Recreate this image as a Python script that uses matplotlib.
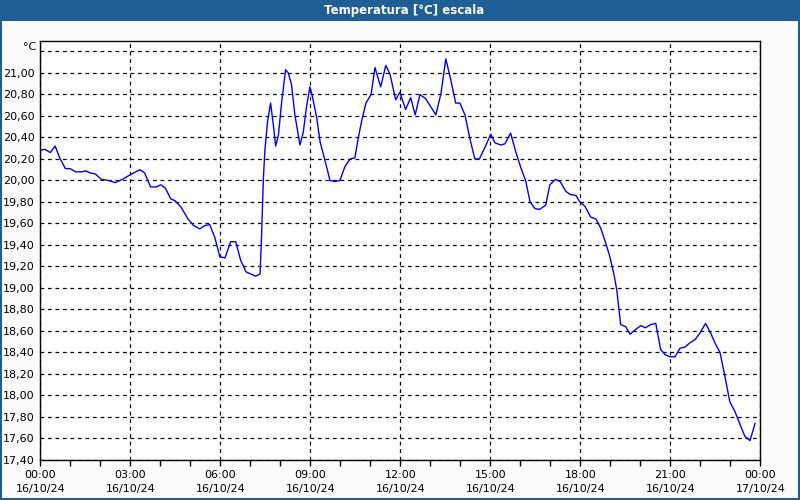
from datetime import datetime, timedelta

import matplotlib
matplotlib.use("Agg")
import matplotlib.pyplot as plt
import matplotlib.dates as mdates
from matplotlib.ticker import FuncFormatter, MultipleLocator
from matplotlib.patches import Rectangle

# hours since 16/10/24 00:00 and temperature readings (°C)
hours = [
    0.00, 0.14, 0.33, 0.49, 0.64, 0.83, 0.99, 1.17, 1.39, 1.50, 1.66, 1.83,
    2.03, 2.27, 2.49, 2.73, 2.97, 3.31, 3.47, 3.67, 3.86, 4.01, 4.16, 4.34,
    4.49, 4.69, 4.92, 5.11, 5.31, 5.47, 5.64, 5.81, 5.98, 6.15, 6.34, 6.51,
    6.67, 6.85, 7.01, 7.17, 7.32, 7.37, 7.43, 7.48, 7.57, 7.67, 7.76, 7.84,
    7.93, 8.04, 8.17, 8.26, 8.37, 8.48, 8.65, 8.76, 8.87, 8.98, 9.05, 9.21,
    9.32, 9.48, 9.65, 9.82, 9.98, 10.15, 10.32, 10.48, 10.59, 10.71, 10.85,
    11.02, 11.15, 11.34, 11.51, 11.65, 11.84, 11.98, 12.17, 12.34, 12.49,
    12.65, 12.84, 13.18, 13.35, 13.51, 13.65, 13.84, 13.98, 14.15, 14.32,
    14.48, 14.63, 14.82, 15.01, 15.15, 15.34, 15.48, 15.67, 15.84, 16.01,
    16.17, 16.32, 16.48, 16.63, 16.84, 16.98, 17.17, 17.32, 17.51, 17.65,
    17.85, 17.98, 18.15, 18.34, 18.52, 18.67, 18.84, 18.98, 19.12, 19.21,
    19.34, 19.51, 19.65, 19.82, 20.01, 20.17, 20.34, 20.51, 20.67, 20.82,
    20.98, 21.15, 21.32, 21.48, 21.65, 21.82, 21.98, 22.17, 22.34, 22.48,
    22.65, 22.82, 22.98, 23.15, 23.32, 23.48, 23.65, 23.82,
]
temps = [
    20.28, 20.29, 20.26, 20.32, 20.21, 20.11, 20.11, 20.08, 20.08, 20.09, 20.07, 20.06,
    20.01, 20.00, 19.98, 20.01, 20.05, 20.10, 20.07, 19.94, 19.94, 19.96, 19.93, 19.83,
    19.81, 19.75, 19.64, 19.58, 19.55, 19.58, 19.59, 19.47, 19.29, 19.28, 19.43, 19.43,
    19.26, 19.15, 19.13, 19.11, 19.13, 19.49, 20.02, 20.28, 20.55, 20.72, 20.52, 20.32,
    20.42, 20.73, 21.03, 21.00, 20.89, 20.61, 20.33, 20.45, 20.69, 20.87, 20.80, 20.58,
    20.36, 20.19, 20.00, 19.99, 20.00, 20.13, 20.20, 20.21, 20.39, 20.56, 20.72,
    20.80, 21.05, 20.87, 21.07, 20.99, 20.75, 20.82, 20.66, 20.77, 20.61,
    20.80, 20.76, 20.61, 20.81, 21.13, 20.97, 20.72, 20.72, 20.61, 20.38,
    20.20, 20.20, 20.31, 20.43, 20.35, 20.33, 20.34, 20.44, 20.27, 20.12,
    20.00, 19.80, 19.74, 19.73, 19.77, 19.96, 20.01, 19.99, 19.90, 19.87,
    19.86, 19.80, 19.76, 19.66, 19.64, 19.56, 19.42, 19.29, 19.12, 18.98,
    18.66, 18.64, 18.57, 18.61, 18.65, 18.63, 18.66, 18.67, 18.43, 18.38,
    18.36, 18.36, 18.44, 18.45, 18.49, 18.52, 18.58, 18.67, 18.58, 18.49,
    18.40, 18.17, 17.94, 17.85, 17.73, 17.62, 17.58, 17.74,
]

title = "Temperatura [°C] escala"
unit = "°C"

start = datetime(2024, 10, 16)
times = [start + timedelta(hours=h) for h in hours]

plt.rcParams["font.family"] = ["DejaVu Sans"]
plt.rcParams["font.size"] = 8

fig = plt.figure(figsize=(8, 5), dpi=100, facecolor="#fbfcfb")
ax = fig.add_axes([0.0506, 0.08, 0.9, 0.8386])
ax.set_facecolor("white")

ax.plot(times, temps, color="#0000ff", linewidth=1)

ax.set_xlim(start, start + timedelta(hours=24))
ax.set_ylim(17.4, 21.3)

ax.xaxis.set_major_locator(mdates.HourLocator(byhour=range(0, 24, 3)))
ax.xaxis.set_minor_locator(mdates.HourLocator())
ax.xaxis.set_major_formatter(mdates.DateFormatter("%H:%M\n%d/%m/%y"))
ax.yaxis.set_major_locator(MultipleLocator(0.2))
ax.yaxis.set_major_formatter(FuncFormatter(
    lambda v, p: "" if v > 21.1 else f"{v:.2f}".replace(".", ",")))

ax.grid(True, which="major", color="black", linestyle=(0, (3, 3)), linewidth=0.9)
ax.tick_params(axis="x", which="major", length=4, width=1, pad=3, labelsize=8)
ax.tick_params(axis="x", which="minor", length=4, width=1)
ax.tick_params(axis="y", length=0, pad=4, labelsize=8)
for lbl in ax.get_xticklabels():
    lbl.set_linespacing(1.5)
for s in ax.spines.values():
    s.set_color("black")
    s.set_linewidth(1)

ax.text(-0.006, 1 - 6.5 / 419.3, unit, transform=ax.transAxes,
        ha="right", va="center", fontsize=8)

# title bar and frame
fig.patches.append(Rectangle((0, 1 - 21 / 500), 1, 21 / 500, transform=fig.transFigure,
                             facecolor="#1f5f96", edgecolor="none", zorder=0))
fig.patches.append(Rectangle((0.001, 0.002), 0.998, 0.996, transform=fig.transFigure,
                             facecolor="none", edgecolor="#1f5f96", linewidth=1.5, zorder=1))
fig.text(0.505, 1 - 10.5 / 500, title, color="white", fontweight="bold",
         ha="center", va="center", fontsize=8.5)

fig.savefig("out.png", dpi=100, facecolor=fig.get_facecolor())
